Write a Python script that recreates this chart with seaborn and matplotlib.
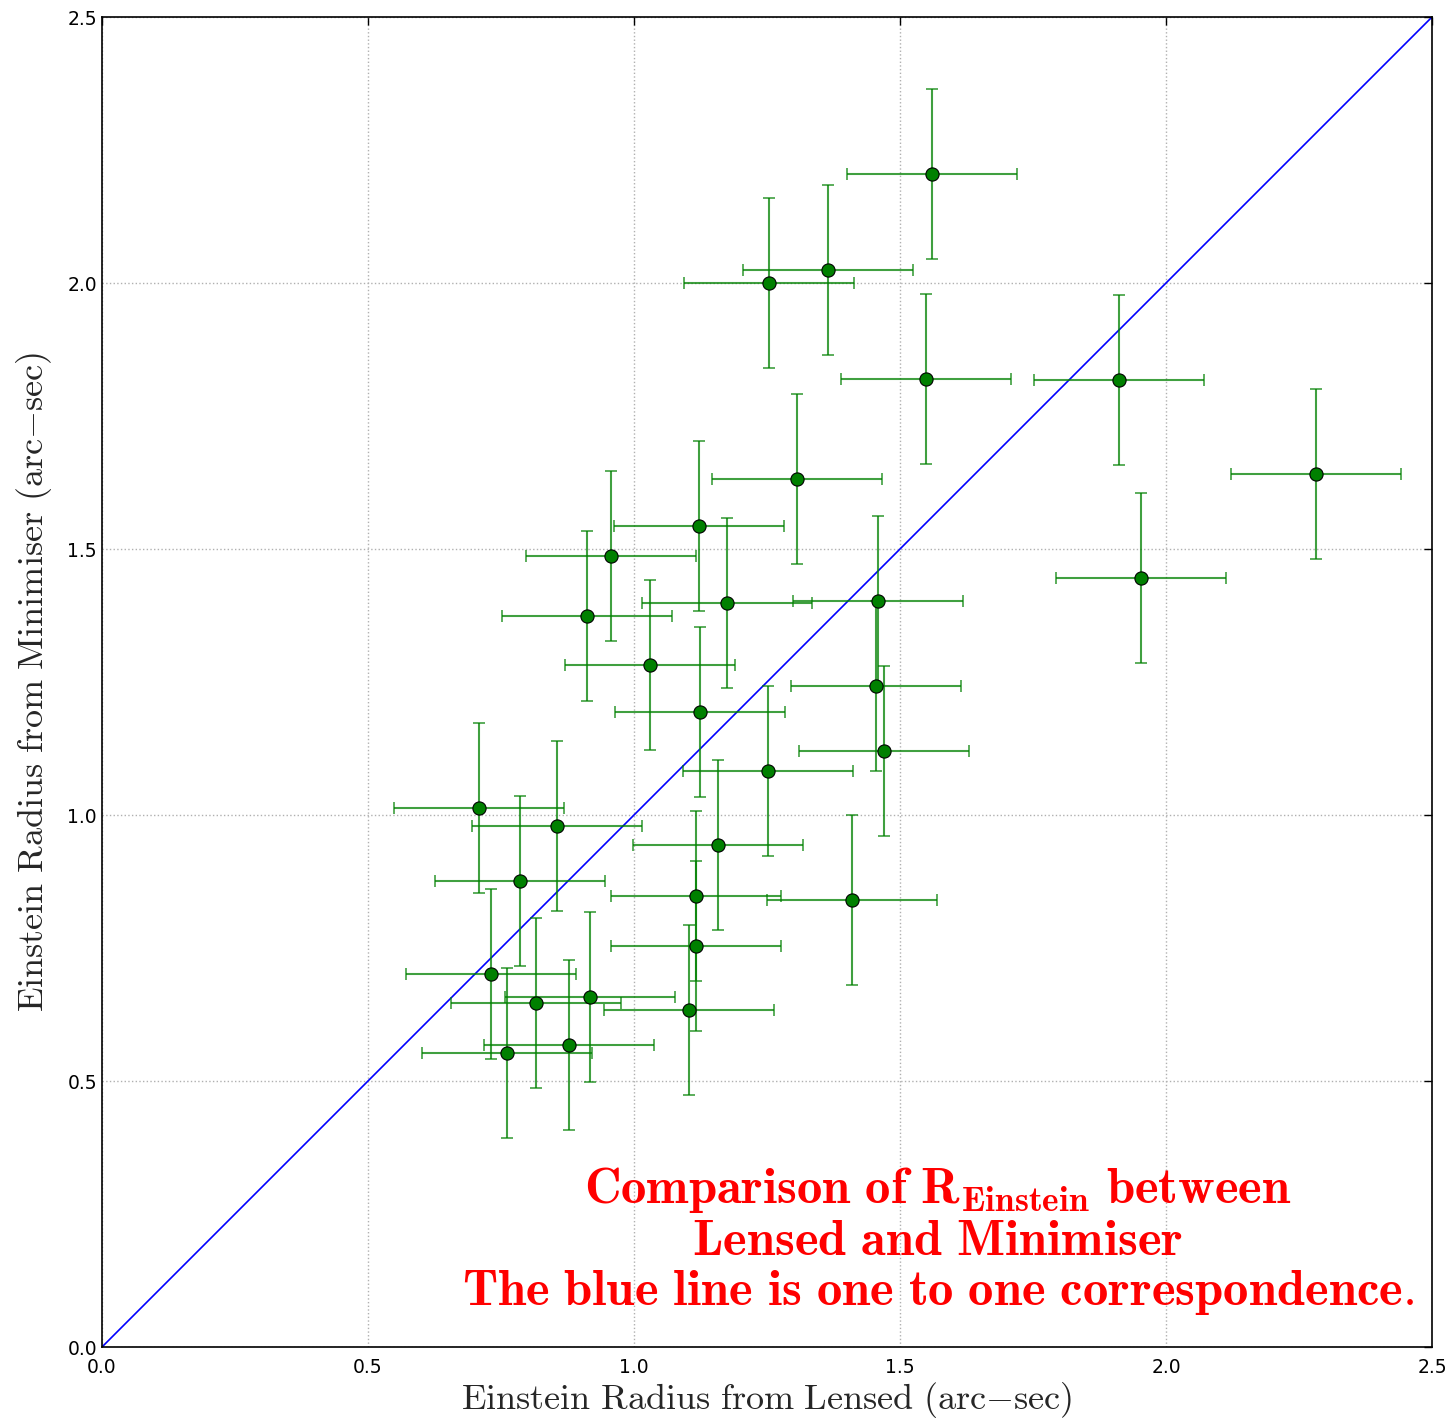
import numpy as np
import pandas as pd
import matplotlib
matplotlib.use('Agg')
import matplotlib.pyplot as plt
import seaborn as sns

# Einstein radius estimates (arc-sec)
r_lensed = [2.282, 1.560, 1.254, 1.365, 1.549, 1.912, 1.306, 1.953, 0.957, 1.122,
            0.912, 1.175, 1.459, 1.030, 1.455, 1.124, 1.470, 1.252, 0.709, 0.855,
            1.158, 0.786, 1.117, 1.410, 1.117, 0.731, 0.917, 0.816, 1.103, 0.878,
            0.761]
r_minimiser = [1.641, 2.205, 2.000, 2.024, 1.820, 1.818, 1.632, 1.446, 1.487, 1.543,
               1.374, 1.398, 1.402, 1.282, 1.242, 1.194, 1.120, 1.083, 1.013, 0.979,
               0.944, 0.876, 0.848, 0.840, 0.754, 0.701, 0.658, 0.647, 0.633, 0.568,
               0.553]
err_lensed = [0.16] * len(r_lensed)
err_minimiser = [0.16] * len(r_minimiser)
one_to_one = [0.0, 2.5]
ticks = [0.0, 0.5, 1.0, 1.5, 2.0, 2.5]

df = pd.DataFrame({'lensed': r_lensed, 'minimiser': r_minimiser})

sns.set_style('white')
plt.rcParams['mathtext.fontset'] = 'cm'
plt.rcParams['font.family'] = ['DejaVu Sans']

fig = plt.figure(figsize=(14.52, 14.22), dpi=100)
ax = fig.add_axes([0.0702, 0.0527, 0.9160, 0.9353])

# one to one line
sns.lineplot(x=one_to_one, y=one_to_one, color='blue', linewidth=1.2, ax=ax, zorder=2)

# error bars then points
ax.errorbar(df['lensed'], df['minimiser'], xerr=err_lensed, yerr=err_minimiser,
            fmt='none', ecolor='green', elinewidth=1.5, capsize=4, capthick=1.2,
            alpha=0.75, zorder=3)
sns.scatterplot(data=df, x='lensed', y='minimiser', color='green', s=90,
                edgecolor='black', linewidth=0.8, ax=ax, zorder=4)

ax.set_xlim(0, 2.5)
ax.set_ylim(0, 2.5)
ax.set_xticks(ticks)
ax.set_yticks(ticks)
ax.grid(True, linestyle=':', color='#b0b0b0', linewidth=1.0)
ax.tick_params(direction='in', length=6, width=1, labelsize=13.5,
               top=True, right=True, colors='black')
ax.tick_params(axis='x', pad=8)
for side in ax.spines.values():
    side.set_visible(True)
    side.set_color('black')
    side.set_linewidth(1.2)

ax.set_xlabel(r'$\mathrm{Einstein\ Radius\ from\ Lensed\ (arc{-}sec)}$', fontsize=26, labelpad=2)
ax.set_ylabel(r'$\mathrm{Einstein\ Radius\ from\ Minimiser\ (arc{-}sec)}$', fontsize=26, labelpad=10)

note_kw = dict(color='red', fontsize=36.5, ha='center', va='center')
ax.text(1.571, 0.295, r'$\mathbf{Comparison\ of\ R_{Einstein}\ between}$', **note_kw)
ax.text(1.571, 0.199, r'$\mathbf{Lensed\ and\ Minimiser}$', **note_kw)
ax.text(1.571, 0.103, r'$\mathbf{The\ blue\ line\ is\ one\ to\ one\ correspondence.}$', **note_kw)

fig.savefig('out.png', dpi=100)
